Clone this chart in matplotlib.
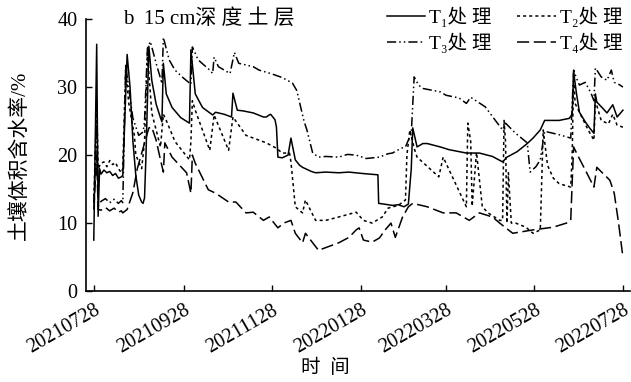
import matplotlib
matplotlib.use('Agg')
import matplotlib.pyplot as plt
import numpy as np
import pandas as pd

plt.rcParams['font.family'] = ['Liberation Serif', 'Noto Sans CJK SC', 'DejaVu Sans']
plt.rcParams['axes.unicode_minus'] = False

start = pd.Timestamp('2021-07-28')

# days since 2021-07-28, volumetric water content (%)
t1_days = [0, 2, 3, 4, 5, 7, 9, 11, 13, 15, 17, 19, 20, 23, 25, 27, 29, 31, 33, 34, 35, 36, 38,
           40, 43, 46, 47, 48, 50, 54, 60, 66, 67, 70, 75, 82, 84, 90, 95, 96, 99, 103, 110,
           117, 119, 121, 122, 125, 126, 127, 130, 134, 136, 139, 142, 144, 150, 153, 160,
           169, 176, 185, 196, 196.5, 200, 206, 210, 214, 217, 219, 220, 223, 227, 230, 239,
           245, 257, 266, 275, 282, 285, 292, 299, 303, 308, 311, 321, 328, 330, 331, 333,
           335, 339, 342, 345, 346, 347, 351, 354, 358, 361, 365]
t1_vals = [7.5, 36.3, 11, 18, 17.2, 17.8, 17.4, 17.6, 17.0, 17.3, 16.6, 16.8, 17, 34.8, 30, 22,
           17, 14.1, 13.1, 12.9, 13.7, 20, 36, 31, 27.5, 25.5, 24.9, 33.5, 29, 27, 25.5, 24.7,
           35.5, 29, 27, 25.9, 26.3, 26, 25.6, 29.1, 26.6, 26.5, 26.2, 25.6, 25.6, 25.9, 26.0,
           25.2, 24.1, 19.7, 19.6, 20, 22.5, 19.3, 18.5, 18.2, 17.6, 17.4, 17.5, 17.4, 17.5,
           17.3, 17.1, 12.9, 12.8, 12.6, 12.7, 12.4, 12.8, 18, 24, 21.2, 21.7, 21.7, 21.2,
           20.8, 20.3, 20.3, 19.8, 19, 19.7, 20.5, 21.7, 22.5, 23.7, 25.1, 25.1, 25.4, 26,
           32.2, 29, 26.3, 24.9, 24, 23.2, 29, 27.8, 26.9, 26.2, 27.4, 25.6, 26.6]

t2_days = [0, 2, 3, 5, 7, 9, 11, 13, 15, 17, 19, 20, 22, 24, 28, 29, 31, 33, 35, 37, 40, 46,
           48, 50, 56, 66, 67, 68, 70, 80, 83, 93, 96, 105, 119, 126, 130, 135, 136, 139,
           144, 146, 153, 160, 169, 181, 186, 192, 199, 203, 210, 215, 216, 218, 221, 223,
           238, 241, 257, 258, 260, 261, 264, 268, 272, 280, 282, 283, 284, 285, 286, 288,
           291, 298, 303, 308, 310, 313, 317, 321, 329, 330, 331, 332, 341, 345, 346, 350,
           355, 358, 361, 365]
t2_vals = [13, 28, 18, 18.8, 19, 18.3, 19.2, 18.6, 18.9, 18, 17.4, 18, 33, 27.8, 22.9, 20, 19,
           18, 22, 35, 26.2, 21.2, 26, 25.1, 22, 19.3, 22, 28, 26.6, 20.7, 25.9, 20.7, 25.6,
           22.9, 21.8, 21, 20.3, 20.3, 19, 12.4, 11.5, 13.4, 10.4, 10.4, 10.9, 11.6, 10.4,
           10, 10.9, 12.2, 12.6, 13.4, 20, 23.7, 21, 19.7, 16.8, 19.7, 12.4, 24.7, 22, 12.5,
           20.4, 12.4, 11.5, 10.4, 10.4, 25.1, 22, 10, 17.4, 10, 10, 9.4, 8.5, 9.0, 23.7,
           18.5, 16.6, 15.8, 15.3, 20, 32, 27.6, 23.7, 22.2, 28, 25.1, 24.6, 26, 24.4, 24.1]

t3_days = [0, 2, 3, 5, 8, 11, 14, 17, 19, 20, 22, 24, 27, 31, 34, 35, 37, 39, 43, 46, 47, 48,
           52, 56, 62, 66, 67, 68, 72, 80, 82, 83, 86, 94, 97, 100, 110, 114, 122, 130, 137,
           140, 145, 147, 149, 151, 155, 160, 169, 175, 181, 188, 197, 203, 206, 212, 215,
           219, 221, 224, 227, 239, 243, 252, 257, 260, 270, 277, 282, 284, 291, 299, 301,
           305, 308, 311, 313, 321, 329, 331, 333, 335, 339, 343, 345, 346, 347, 350, 354,
           357, 359, 363, 365]
t3_vals = [13, 25, 12.5, 13.2, 13.6, 13.0, 13.5, 12.9, 13.3, 13, 33.2, 30, 25.4, 22.9, 23.4,
           25, 35.7, 36.7, 33.5, 31.3, 30.5, 37.3, 34, 32.5, 31.3, 30.6, 30.4, 35.9, 34, 32.5,
           32, 34.4, 33, 32, 35.1, 33.5, 33, 32.5, 32, 31.4, 30.6, 29.5, 25, 23.7, 22, 20.3,
           19.7, 19.8, 19.7, 20.1, 20, 19.5, 19.7, 20.2, 20.3, 21.0, 21.2, 23.2, 31.5, 30.3,
           29.8, 29.3, 28.8, 28.4, 27.6, 28.5, 27.1, 25.1, 23.7, 24.7, 23.2, 21.8, 17.5, 18.3,
           19.3, 23.5, 23.4, 23, 22.5, 32.5, 31.3, 30.3, 30.7, 29.1, 28, 32.8, 32.5, 31.5, 31,
           32.5, 30.7, 30.3, 30]

t4_days = [0, 2, 3, 5, 8, 11, 14, 17, 19, 20, 23, 27, 30, 34, 38, 40, 43, 46, 48, 49, 54, 64,
           67, 68, 70, 79, 84, 93, 98, 105, 110, 117, 121, 127, 131, 136, 139, 144, 146, 151,
           155, 169, 176, 181, 183, 186, 192, 197, 201, 205, 208, 213, 217, 220, 230, 241,
           250, 259, 266, 275, 280, 289, 303, 317, 326, 329, 330, 331, 333, 340, 345, 347,
           356, 359, 362, 365]
t4_vals = [12, 20, 12, 11.9, 12.3, 11.8, 12.2, 11.6, 11.8, 11.5, 12, 14.5, 18, 21, 24, 24.1,
           22.2, 19.3, 17.5, 21.8, 19.7, 17.4, 14.4, 20, 18.8, 14.9, 14.4, 13.1, 13.1, 11.5,
           11.6, 10.4, 10.9, 9.3, 10, 10.4, 8.5, 7.1, 8.5, 7.1, 6.0, 7.1, 7.9, 9, 9.3, 7.5,
           7.2, 7.8, 9, 10, 7.9, 10.9, 12.4, 12.9, 12.4, 11.5, 11.5, 10.4, 11.5, 10.9, 10,
           8.5, 9, 9.4, 10, 10.4, 16, 21.2, 20.3, 17.4, 15.3, 18.2, 16.3, 14.4, 10, 5]

tick_labels = ['20210728', '20210928', '20211128', '20220128', '20220328', '20220528', '20220728']


def to_dates(days):
    return start + pd.to_timedelta(np.array(days, dtype=float), unit='D')


fig = plt.figure(figsize=(6.31, 3.82), dpi=100)
ax = fig.add_axes([0.136, 0.238, 0.862, 0.712])

lw = 1.1
l1, = ax.plot(to_dates(t1_days), t1_vals, color='k', lw=lw, ls='-')
l2, = ax.plot(to_dates(t2_days), t2_vals, color='k', lw=lw, ls=(0, (2, 2)))
l3, = ax.plot(to_dates(t3_days), t3_vals, color='k', lw=lw, ls=(0, (6, 2, 1, 2, 1, 2)))
l4, = ax.plot(to_dates(t4_days), t4_vals, color='k', lw=lw, ls=(0, (8, 3)))

ax.set_ylim(0, 40)
ax.set_yticks([0, 10, 20, 30, 40])
ax.set_xlim(start - pd.Timedelta(days=5.5), start + pd.Timedelta(days=369.7))
ax.set_xticks(pd.to_datetime(tick_labels, format='%Y%m%d'))
ax.set_xticklabels(tick_labels, rotation=30, ha='right', rotation_mode='anchor')

for s in ['top', 'right']:
    ax.spines[s].set_visible(False)
for s in ['left', 'bottom']:
    ax.spines[s].set_linewidth(1.2)
ax.tick_params(direction='in', length=4, width=1.0, labelsize=14.5)
ax.tick_params(axis='x', pad=7)
ax.tick_params(axis='y', pad=6)

ax.set_ylabel('土壤体积含水率/%', fontsize=15)
ax.yaxis.set_label_coords(-0.103, 0.5)
ax.set_xlabel('时  间', fontsize=14)
ax.xaxis.set_label_coords(0.44, -0.25)

ax.text(0.068, 1.0, 'b  15 cm深 度 土 层', transform=ax.transAxes, fontsize=15,
        va='center', ha='left')

labels = ['T₁处 理', 'T₃处 理', 'T₂处 理', 'T₄处 理']
ax.legend([l1, l3, l2, l4], labels,
          ncol=2, loc='upper left', bbox_to_anchor=(0.553, 1.045), frameon=False,
          fontsize=14, handlelength=2.0, columnspacing=1.3, labelspacing=0.3,
          handletextpad=0.2, borderpad=0, borderaxespad=0)

fig.savefig('out.png', dpi=100)
